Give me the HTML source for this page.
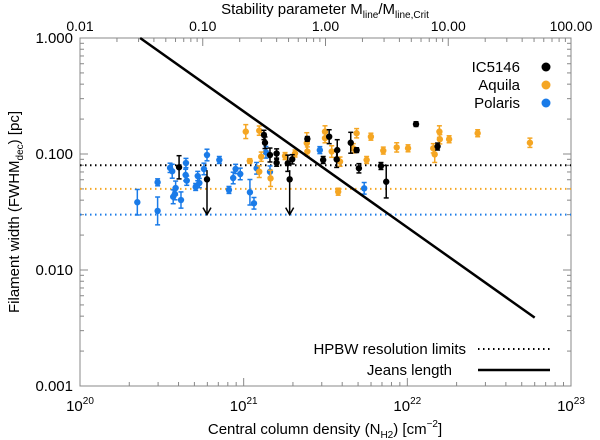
<!DOCTYPE html>
<html><head><meta charset="utf-8">
<style>
html,body{margin:0;padding:0;background:#fff;}
svg{display:block;font-family:"Liberation Sans",sans-serif;}
</style></head>
<body>
<svg id="chart" width="600" height="440" viewBox="0 0 600 440"></svg>
<script>
// ---- data (N in units of 1e21 cm^-2, width in pc, err in dex) ----
const polarisN = [0.224,0.298,0.298,0.355,0.366,0.371,0.38,0.384,0.414,0.444,0.442,0.449,0.509,0.524,0.536,0.572,0.597,0.71,0.813,0.863,0.893,0.953,1.092,1.156,1.2,1.368,1.448,2.92,5.45];
const polarisW = [0.0384,0.0323,0.057,0.076,0.071,0.0428,0.0452,0.0509,0.0401,0.0836,0.0659,0.0589,0.052,0.0646,0.0562,0.0743,0.098,0.0888,0.049,0.0621,0.0743,0.0673,0.0468,0.0376,0.0753,0.1035,0.0703,0.108,0.0506];
const polarisE = [0.11,0.12,0.03,0.04,0.06,0.06,0.05,0.06,0.07,0.04,0.05,0.04,0.03,0.04,0.04,0.05,0.05,0.03,0.03,0.05,0.04,0.05,0.11,0.05,0.05,0.05,0.05,0.03,0.05];
const ic5146N = [0.403,1.35,1.33,1.448,1.59,1.59,1.86,1.98,2.45,3.33,3.06,3.73,3.7,4.51,4.9,5.06,6.9,7.43,11.3,15.3];
const ic5146W = [0.0768,0.125,0.146,0.098,0.101,0.0841,0.0832,0.09,0.135,0.141,0.0888,0.108,0.09,0.125,0.108,0.0753,0.0788,0.0577,0.181,0.116];
const ic5146E = [0.1,0.05,0.04,0.06,0.04,0.03,0.07,0.04,0.02,0.06,0.03,0.09,0.07,0.09,0.02,0.04,0.03,0.14,0.02,0.03];
const ic5146LimN = [0.597,1.91];
const ic5146LimW = [0.0605,0.0605];
const aquilaN = [1.03,1.245,1.09,1.245,1.28,1.46,1.79,2.06,2.43,2.45,3.14,3.14,3.45,3.88,3.78,4.9,4.67,5.64,5.99,7.13,8.61,10.1,14.4,14.7,15.7,15.8,18.0,26.9,56.1];
const aquilaW = [0.156,0.159,0.087,0.0704,0.0948,0.0617,0.096,0.101,0.124,0.105,0.156,0.137,0.105,0.0859,0.0473,0.151,0.112,0.0888,0.141,0.107,0.114,0.112,0.112,0.0993,0.156,0.134,0.134,0.151,0.125];
const aquilaE = [0.06,0.04,0.02,0.05,0.04,0.07,0.03,0.03,0.09,0.04,0.05,0.04,0.05,0.04,0.03,0.04,0.04,0.03,0.03,0.03,0.04,0.03,0.04,0.07,0.05,0.04,0.03,0.03,0.04];
const resolutionW = [0.08,0.05,0.03];
const jeansCoef = 0.233; // width = coef / N21
const jeansRangeN = [0.233,60];
const xTickLabels = ["20","21","22","23"];
const yTickLabels = ["1.000","0.100","0.010","0.001"];
const topTickLabels = ["0.01","0.10","1.00","10.00","100.00"];

const L=80,R=571,T=38,B=386;
const xs = n => L + (Math.log10(n)+1)/3*(R-L);
const ys = w => T + (-Math.log10(w))/3*(B-T);
const svg=document.getElementById('chart');
const NS='http://www.w3.org/2000/svg';
function mk(tag,attrs,parent){const e=document.createElementNS(NS,tag);for(const k in attrs)e.setAttribute(k,attrs[k]);(parent||svg).appendChild(e);return e;}

const box=mk('rect',{x:L,y:T,width:R-L,height:B-T,fill:'none',stroke:'#888','stroke-width':1});



const gx=mk('g',{});


for(let d=0;d<3;d++){for(let m=1;m<10;m++){const x=L+(d+Math.log10(m))/3*(R-L);const len=m==1?8:4;
 mk('line',{x1:x,y1:B,x2:x,y2:B-len,stroke:'#888'},gx);}}
xTickLabels.forEach((t,i)=>{const x=L+i/3*(R-L);
 const tx=mk('text',{x:x,y:411,'text-anchor':'middle','font-size':15,fill:'#000'},gx);
 tx.textContent='10';const s=mk('tspan',{dy:-7,'font-size':10},tx);s.textContent=t;
 
 });
const gt=mk('g',{});


for(let d=0;d<4;d++){for(let m=1;m<10;m++){const x=L+(d+Math.log10(m))/4*(R-L);const len=m==1?8:4;
 mk('line',{x1:x,y1:T,x2:x,y2:T+len,stroke:'#888'},gt);}}
topTickLabels.forEach((t,i)=>{const x=L+i/4*(R-L);
 const tx=mk('text',{x:x,y:31,'text-anchor':'middle','font-size':14,fill:'#000'},gt);tx.textContent=t;
 
 });
const gy=mk('g',{});


for(let d=0;d<3;d++){for(let m=1;m<10;m++){const y=B-(d+Math.log10(m))/3*(B-T);const len=m==1?8:4;
 mk('line',{x1:L,y1:y,x2:L+len,y2:y,stroke:'#888'},gy);mk('line',{x1:R,y1:y,x2:R-len,y2:y,stroke:'#888'},gy);}}
yTickLabels.forEach((t,i)=>{const y=T+i/3*(B-T);
 const tx=mk('text',{x:73,y:y+5,'text-anchor':'end','font-size':15,fill:'#000'},gy);tx.textContent=t;
 
 });

const xt=mk('text',{x:325,y:434,'text-anchor':'middle','font-size':15});
xt.innerHTML='Central column density (N<tspan dy="4" font-size="10">H2</tspan><tspan dy="-4">) [cm</tspan><tspan dy="-7" font-size="10">−2</tspan><tspan dy="7">]</tspan>';


const tt=mk('text',{x:325,y:14,'text-anchor':'middle','font-size':15});
tt.innerHTML='Stability parameter M<tspan dy="4" font-size="10">line</tspan><tspan dy="-4">/M</tspan><tspan dy="4" font-size="10">line,Crit</tspan>';


const yt=mk('text',{x:0,y:0,'text-anchor':'middle','font-size':15,transform:'translate(19,212) rotate(-90)'});
yt.innerHTML='Filament width (FWHM<tspan dy="4" font-size="10">dec</tspan><tspan dy="-4">) [pc]</tspan>';



const resColors=['#000','#f5a623','#1a7be8'];
resolutionW.forEach((w,i)=>{const l=mk('line',{x1:L,x2:R,y1:ys(w),y2:ys(w),stroke:resColors[i],'stroke-width':2,'stroke-dasharray':'1.5,3.5'});
 
 });

function series(N,W,E,color,name){
 const g=mk('g',{});
 
 
 N.forEach((n,i)=>{const x=xs(n),y=ys(W[i]);const lw=Math.log10(W[i]);
  const y1=ys(Math.pow(10,lw+E[i])),y2=ys(Math.pow(10,lw-E[i]));
  mk('line',{x1:x,x2:x,y1:y1,y2:y2,stroke:color,'stroke-width':1.5},g);
  mk('line',{x1:x-2.5,x2:x+2.5,y1:y1,y2:y1,stroke:color,'stroke-width':1.5},g);
  mk('line',{x1:x-2.5,x2:x+2.5,y1:y2,y2:y2,stroke:color,'stroke-width':1.5},g);
  const c=mk('circle',{cx:x,cy:y,r:3.2,fill:color},g);
  
  
 });
}
series(polarisN,polarisW,polarisE,'#1a7be8','polaris');
series(aquilaN,aquilaW,aquilaE,'#f5a623','aquila');
series(ic5146N,ic5146W,ic5146E,'#000','ic5146');
ic5146LimN.forEach((n,i)=>{const x=xs(n),y=ys(ic5146LimW[i]),y2=ys(0.03);
 const g=mk('g',{});
 
 
 mk('line',{x1:x,x2:x,y1:y,y2:y2,stroke:'#000','stroke-width':1.5},g);
 mk('polyline',{points:`${x-4},${y2-7} ${x},${y2} ${x+4},${y2-7}`,fill:'none',stroke:'#000','stroke-width':1.5},g);
 mk('circle',{cx:x,cy:y,r:3.2,fill:'#000'},g);
 mk('line',{x1:x,x2:x,y1:ys(ic5146LimW[i]*1.2),y2:y,stroke:'#000','stroke-width':1.5},g);
});

const jl=mk('line',{x1:xs(jeansRangeN[0]),y1:ys(jeansCoef/jeansRangeN[0]),x2:xs(jeansRangeN[1]),y2:ys(jeansCoef/jeansRangeN[1]),stroke:'#000','stroke-width':2.5});



const legItems=[['IC5146','#000',67],['Aquila','#f5a623',85],['Polaris','#1a7be8',103]];
legItems.forEach(([t,c,y])=>{const g=mk('g',{});
 
 
 const tx=mk('text',{x:520,y:y+5,'text-anchor':'end','font-size':15},g);tx.textContent=t;
 mk('circle',{cx:546,cy:y,r:4.5,fill:c},g);});
const lb=mk('g',{});


const t1=mk('text',{x:466,y:354,'text-anchor':'end','font-size':15},lb);t1.textContent='HPBW resolution limits';
mk('line',{x1:478,x2:550,y1:349,y2:349,stroke:'#000','stroke-width':2,'stroke-dasharray':'1.5,3.5'},lb);
const t2=mk('text',{x:452,y:375,'text-anchor':'end','font-size':15},lb);t2.textContent='Jeans length';
mk('line',{x1:478,x2:550,y1:370,y2:370,stroke:'#000','stroke-width':2.5},lb);
</script>
</body></html>
